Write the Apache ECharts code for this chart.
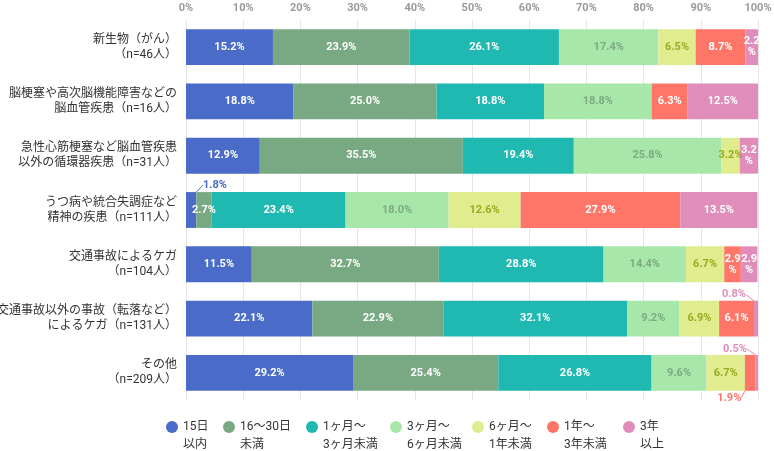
<!DOCTYPE html>
<html><head><meta charset="utf-8">
<script src="https://cdn.jsdelivr.net/npm/echarts@6/dist/echarts.min.js"></script>
<style>html,body{margin:0;padding:0;background:#fff}#c{width:774px;height:451px}</style>
</head><body><div id="c"></div>
<script>
const categories = ['新生物（がん）\n（n=46人）','脳梗塞や高次脳機能障害などの\n脳血管疾患（n=16人）','急性心筋梗塞など脳血管疾患\n以外の循環器疾患（n=31人）','うつ病や統合失調症など\n精神の疾患（n=111人）','交通事故によるケガ\n（n=104人）','交通事故以外の事故（転落など）\nによるケガ（n=131人）','その他\n（n=209人）'];
const seriesNames = ['15日\n以内','16〜30日\n未満','1ヶ月〜\n3ヶ月未満','3ヶ月〜\n6ヶ月未満','6ヶ月〜\n1年未満','1年〜\n3年未満','3年\n以上'];
const s15days   = [15.2, 18.8, 12.9, 1.8, 11.5, 22.1, 29.2];
const s16to30   = [23.9, 25.0, 35.5, 2.7, 32.7, 22.9, 25.4];
const s1to3m    = [26.1, 18.8, 19.4, 23.4, 28.8, 32.1, 26.8];
const s3to6m    = [17.4, 18.8, 25.8, 18.0, 14.4, 9.2, 9.6];
const s6to12m   = [6.5, 0, 3.2, 12.6, 6.7, 6.9, 6.7];
const s1to3y    = [8.7, 6.3, 0, 27.9, 2.9, 6.1, 1.9];
const s3yplus   = [2.2, 12.5, 3.2, 13.5, 2.9, 0.8, 0.5];
const xTicks = ['0%','10%','20%','30%','40%','50%','60%','70%','80%','90%','100%'];

const values = [s15days, s16to30, s1to3m, s3to6m, s6to12m, s1to3y, s3yplus];
const colors = ['#4a6cc8','#79a982','#1fb9b1','#a8e7aa','#e1ec8f','#ff7668','#e08dbb'];
const labelColors = ['#fff','#fff','#fff','#7caa83','#98ac1f','#fff','#fff'];
const legendWidths = [40, 66, 67, 65, 58, 59, 30];
const FONT = 'Roboto, "Noto Sans CJK JP", sans-serif';

const callouts = {'0-3':'upLeft','6-5':'upRight','6-6':'upRight','5-6':'downRight'};
const wrapped = {'6-0':1,'6-2':1,'6-4':1,'5-4':1};

const series = values.map((arr, si) => ({
  name: seriesNames[si], type: 'bar', stack: 'a', barWidth: '66%',
  itemStyle: {color: colors[si]},
  data: arr.map((v, di) => {
    const key = si + '-' + di;
    const item = {value: v};
    if (callouts[key]) {
      item.label = {show: true, color: colors[si], position: callouts[key]==='downRight' ? 'bottom' : 'top'};
      item.labelLine = {show: true, lineStyle: {color: colors[si], width: 1}};
    }
    return item;
  }),
  label: {
    show: true, position: 'inside', color: labelColors[si], fontSize: 11, fontWeight: 'bold', fontFamily: FONT, lineHeight: 11,
    formatter: p => {
      if (!p.value) return '';
      const key = si + '-' + p.dataIndex;
      const t = p.value.toFixed(1);
      return wrapped[key] ? t + '\n%' : t + '%';
    }
  },
  labelLayout: function (params) {
    const key = si + '-' + params.dataIndex;
    const m = callouts[key];
    const r = params.rect;
    if (!m) return {};
    if (m === 'upLeft') {
      return {x: r.x + 17, y: r.y - 7, align: 'left', verticalAlign: 'middle',
        labelLinePoints: [[r.x + 5, r.y], [r.x + 9, r.y - 7], [r.x + 14, r.y - 7]]};
    }
    if (m === 'upRight') {
      const cx = r.x + r.width / 2;
      return {x: cx - 10, y: r.y - 6, align: 'right', verticalAlign: 'middle',
        labelLinePoints: [[cx, r.y], [cx - 4, r.y - 6], [cx - 8, r.y - 6]]};
    }
    if (m === 'downRight') {
      const cx = r.x + r.width / 2;
      return {x: cx - 9, y: r.y + r.height + 7, align: 'right', verticalAlign: 'middle',
        labelLinePoints: [[cx, r.y + r.height], [cx - 2, r.y + r.height + 7], [cx - 7, r.y + r.height + 7]]};
    }
    return {};
  }
}));

const rich = {};
legendWidths.forEach((w, i) => { rich['w' + i] = {width: w, align: 'left', fontSize: 12, lineHeight: 18, color: '#333', fontFamily: FONT}; });

const chart = echarts.init(document.getElementById('c'));
chart.setOption({
  animation: false,
  textStyle: {fontFamily: FONT},
  grid: {left: 186, right: 16, top: 20, bottom: 51, containLabel: false, outerBoundsMode: 'none'},
  xAxis: {
    type: 'value', position: 'top', min: 0, max: 100, interval: 10,
    axisLine: {show: false}, axisTick: {show: false},
    splitLine: {lineStyle: {color: '#e6e6e6'}},
    axisLabel: {color: '#999', fontSize: 11, fontWeight: 'bold', margin: 6, fontFamily: FONT,
      formatter: v => xTicks[Math.round(v / 10)]}
  },
  yAxis: {
    type: 'category', data: categories, inverse: true,
    axisLine: {show: true, lineStyle: {color: '#e6e6e6'}}, axisTick: {show: false},
    axisLabel: {color: '#333', fontSize: 12, lineHeight: 15, margin: 9, align: 'right', fontFamily: FONT}
  },
  legend: {
    data: seriesNames, top: 400, left: 166, padding: 0, icon: 'circle', itemWidth: 12, itemHeight: 12, itemGap: 0,
    formatter: name => {
      const i = seriesNames.indexOf(name);
      return name.split('\n').map(s => '{w' + i + '|' + s + '}').join('\n');
    },
    textStyle: {color: '#333', fontSize: 12, lineHeight: 18, align: 'left', padding: [18, 0, 0, 0], fontFamily: FONT, rich: rich}
  },
  series: series
});
</script></body></html>
